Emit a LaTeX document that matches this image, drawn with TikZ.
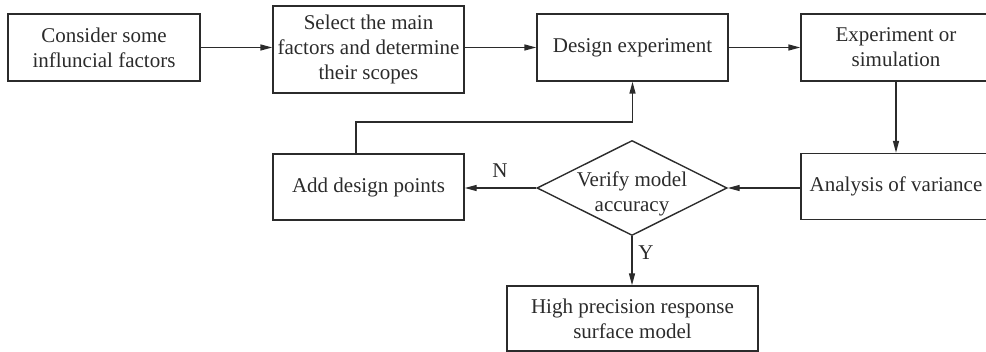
\documentclass[tikz,border=0pt]{standalone}
\usepackage{fontspec}
\setmainfont{Liberation Serif}
\usetikzlibrary{shapes.geometric,arrows.meta}
\definecolor{ink}{HTML}{2B2B2B}
\begin{document}
\begin{tikzpicture}[x=1pt,y=-1pt,
  every node/.style={font=\fontsize{21}{25}\selectfont, text=ink},
  box/.style={draw=ink, line width=1.4pt, rectangle, inner sep=0pt, align=center},
  txt/.style={inner sep=0pt, align=center},
  conn/.style={draw=ink, line width=1.4pt},
  arr/.style={conn, -{Triangle[length=12pt,width=6pt]}}]
\useasboundingbox (0,0) rectangle (986,352);
\clip (0,0) rectangle (986,352);
\node[box, minimum width=192, minimum height=67] (b1) at (104,47.5) {Consider some\\influncial factors};
\node[box, minimum width=191, minimum height=87] (b2) at (368.5,49.5) {Select the main\\factors and determine\\their scopes};
\node[box, minimum width=191, minimum height=67] (b3) at (632.5,47.5) {Design experiment};
\node[box, minimum width=190, minimum height=67] (b4) at (896,47.5) {Experiment or\\simulation};
\node[box, minimum width=190, minimum height=66] (b5) at (896,186.5) {Analysis of variance};
\node[draw=ink, line width=1.4pt, diamond, minimum width=190, minimum height=95, inner sep=0pt] (d) at (632,188) {};
\node[txt] (dt) at (632,194) {Verify model\\accuracy};
\node[box, minimum width=191, minimum height=66] (b6) at (368.5,187) {Add design points};
\node[box, minimum width=251, minimum height=65] (b7) at (632.5,318.5) {High precision response\\surface model};
\coordinate (fb) at (0,122);
\draw[arr] (b1.east) -- (b1.east -| b2.west);
\draw[arr] (b2.east |- b3.west) -- (b3.west);
\draw[arr] (b3.east) -- (b4.west);
\draw[arr] (b4.south) -- (b5.north);
\draw[arr] (b5.west |- d.east) -- (d.east);
\draw[arr] (d.west) -- (d.west -| b6.east);
\draw[arr] (d.south) -- (d.south |- b7.north);
\draw[arr] ([xshift=-12.5pt]b6.north) |- (fb -| b3.south) -- (b3.south);
\node[txt] (ln) at (500,171) {N};
\node[txt] (ly) at (646,253) {Y};
\end{tikzpicture}
\end{document}
